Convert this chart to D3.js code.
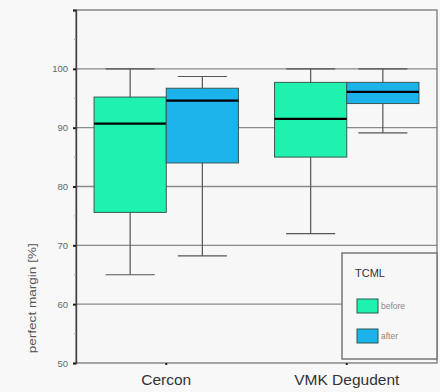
<!DOCTYPE html>
<html lang="en">
<head>
<meta charset="utf-8">
<title>perfect margin boxplot</title>
<style>
  body { margin: 0; background: #f8f8f8; }
  text { font-family: "Liberation Sans", Arial, sans-serif; }
</style>
</head>
<body>
<div id="chart"></div>
<script src="https://d3js.org/d3.v7.min.js"></script>
<script>
// values
var materials = ["Cercon", "VMK Degudent"];
var phases = ["before", "after"];
var phaseColors = ["#1ef2ae", "#1bb3ea"];
// [lower whisker, q1, median, q3, upper whisker] per material, per phase
var before = [[65, 75.6, 90.7, 95.2, 100], [72, 85, 91.5, 97.7, 100]];
var after = [[68.2, 84, 94.6, 96.7, 98.7], [89.1, 94.1, 96.1, 97.7, 100]];
var yTicks = [50, 60, 70, 80, 90, 100];
var legendTitle = "TCML";
var yTitle = "perfect margin [%]";

var width = 440, height = 392;
var margin = {top: 10, right: 3, bottom: 29, left: 76};

var svg = d3.select("#chart").append("svg")
    .attr("width", width)
    .attr("height", height);

var x = d3.scaleBand()
    .domain(materials)
    .range([margin.left, width - margin.right]);

var xSub = d3.scaleBand()
    .domain(phases)
    .range([0, x.bandwidth()])
    .paddingOuter(0.25);

var y = d3.scaleLinear()
    .domain([50, 110])
    .range([height - margin.bottom, margin.top]);

// plot background
svg.append("rect")
    .attr("x", margin.left).attr("y", margin.top)
    .attr("width", width - margin.left - margin.right)
    .attr("height", y(50) - y(110))
    .attr("fill", "#f7f7f7");

// grid lines
svg.append("g")
    .selectAll("line")
    .data(yTicks.slice(1))
    .enter().append("line")
    .attr("x1", margin.left).attr("x2", width - margin.right)
    .attr("y1", function(d) { return y(d); })
    .attr("y2", function(d) { return y(d); })
    .attr("stroke", "#8a8a8a")
    .attr("stroke-width", 1.3);

// frame
svg.append("rect")
    .attr("x", margin.left).attr("y", y(110))
    .attr("width", width - margin.left - margin.right)
    .attr("height", y(50) - y(110))
    .attr("fill", "none")
    .attr("stroke", "#777")
    .attr("stroke-width", 1.3);

// y axis
var yAxis = d3.axisLeft(y)
    .tickValues(d3.range(50, 111, 10))
    .tickSize(3)
    .tickPadding(5)
    .tickFormat(function(d) { return yTicks.indexOf(d) >= 0 ? d : ""; });
var gy = svg.append("g")
    .attr("transform", "translate(" + margin.left + ",0)")
    .call(yAxis);
gy.select(".domain").attr("stroke", "#444").attr("stroke-width", 1.4);
gy.selectAll(".tick line").attr("stroke", "#222").attr("stroke-width", 2);
gy.selectAll(".tick text")
    .attr("fill", "#666")
    .style("font-size", "9.5px");

// minor ticks
svg.append("g")
    .selectAll("line")
    .data(d3.range(55, 110, 10))
    .enter().append("line")
    .attr("x1", margin.left - 2).attr("x2", margin.left)
    .attr("y1", function(d) { return y(d); })
    .attr("y2", function(d) { return y(d); })
    .attr("stroke", "#aaa");

svg.append("text")
    .attr("transform", "translate(36," + y(61) + ") rotate(-90)")
    .attr("text-anchor", "middle")
    .attr("fill", "#555")
    .attr("textLength", 110)
    .attr("lengthAdjust", "spacingAndGlyphs")
    .style("font-size", "10.5px")
    .text(yTitle);

// x axis ticks and labels
var gx = svg.append("g")
    .attr("transform", "translate(0," + y(50) + ")")
    .call(d3.axisBottom(x).tickSize(2).tickPadding(9));
gx.select(".domain").remove();
gx.selectAll(".tick line").attr("stroke", "#222").attr("stroke-width", 2);
gx.selectAll(".tick text")
    .attr("fill", "#333")
    .style("font-size", "15.5px");

// boxes
var boxes = [];
materials.forEach(function(m, i) {
    boxes.push({material: m, phase: "before", s: before[i], color: phaseColors[0]});
    boxes.push({material: m, phase: "after", s: after[i], color: phaseColors[1]});
});

var g = svg.append("g")
    .selectAll("g")
    .data(boxes)
    .enter().append("g")
    .attr("transform", function(d) { return "translate(" + (x(d.material) + xSub(d.phase)) + ",0)"; });

var bw = xSub.bandwidth();
var capW = bw * 0.68;

g.append("line")
    .attr("x1", bw / 2).attr("x2", bw / 2)
    .attr("y1", function(d) { return y(d.s[0]); })
    .attr("y2", function(d) { return y(d.s[4]); })
    .attr("stroke", "#555").attr("stroke-width", 1.2);

g.selectAll(".cap")
    .data(function(d) { return [d.s[0], d.s[4]]; })
    .enter().append("line")
    .attr("x1", (bw - capW) / 2).attr("x2", (bw + capW) / 2)
    .attr("y1", function(v) { return y(v); })
    .attr("y2", function(v) { return y(v); })
    .attr("stroke", "#555").attr("stroke-width", 1.2);

g.append("rect")
    .attr("x", 0).attr("width", bw)
    .attr("y", function(d) { return y(d.s[3]); })
    .attr("height", function(d) { return y(d.s[1]) - y(d.s[3]); })
    .attr("fill", function(d) { return d.color; })
    .attr("stroke", "#3a5a55").attr("stroke-width", 1);

g.append("line")
    .attr("x1", 0).attr("x2", bw)
    .attr("y1", function(d) { return y(d.s[2]); })
    .attr("y2", function(d) { return y(d.s[2]); })
    .attr("stroke", "#000").attr("stroke-width", 2.2);

// legend
var lg = svg.append("g").attr("transform", "translate(342,253)");
lg.append("rect")
    .attr("width", 95).attr("height", 106)
    .attr("fill", "#f7f7f7")
    .attr("stroke", "#777").attr("stroke-width", 1.5);
lg.append("text")
    .attr("x", 13).attr("y", 24)
    .attr("fill", "#333")
    .style("font-size", "11px")
    .text(legendTitle);
var items = lg.selectAll(".item")
    .data(phases)
    .enter().append("g")
    .attr("transform", function(d, i) { return "translate(15," + (46 + i * 30) + ")"; });
items.append("rect")
    .attr("width", 21).attr("height", 14)
    .attr("fill", function(d, i) { return phaseColors[i]; })
    .attr("stroke", "#2a5a55").attr("stroke-width", 1);
items.append("text")
    .attr("x", 24).attr("y", 10)
    .attr("fill", "#888")
    .style("font-size", "8.5px")
    .text(function(d) { return d; });
</script>
</body>
</html>
